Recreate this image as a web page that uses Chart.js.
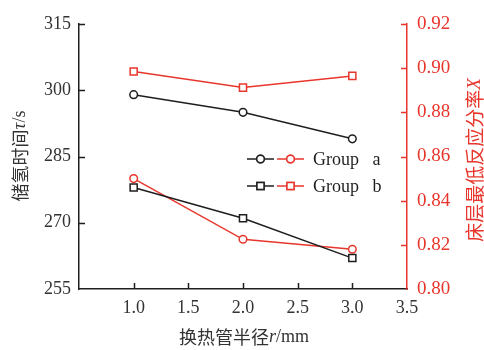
<!DOCTYPE html>
<html>
<head>
<meta charset="utf-8">
<script src="https://cdn.jsdelivr.net/npm/chart.js@4/dist/chart.umd.min.js"></script>
<style>
  html, body { margin: 0; padding: 0; background: #ffffff; }
  #wrap { width: 484px; height: 350px; position: relative; }
</style>
</head>
<body>
<div id="wrap"><canvas id="c" width="484" height="350"></canvas></div>
<script>
// Heat-exchange tube radius r (mm)
const radii = [1.0, 2.0, 3.0];
// Hydrogen storage time τ (s), left axis
const timeA = [299, 295, 289];
const timeB = [278, 271, 262];
// Minimum bed reacted fraction X, right axis
const fracA = [0.850, 0.8225, 0.818];
const fracB = [0.8985, 0.8912, 0.8965];
// Axis tick settings
const xTicks = { min: 0.5, max: 3.5, step: 0.5 };
const yTicks = { min: 255, max: 315, step: 15 };
const y1Ticks = { min: 0.80, max: 0.92, step: 0.02 };
const groupNames = ['Group   a', 'Group   b'];

const BLACK = '#1e1e1e';
const RED = '#e8362c';
const SERIF = '"Liberation Serif", "Times New Roman", serif';
const CJK = '"Noto Sans CJK SC", "Noto Sans", sans-serif';

const pts = (xs, ys) => xs.map((x, i) => ({ x: x, y: ys[i] }));

function series(label, data, color, style, axis) {
  return {
    label: label,
    data: data,
    yAxisID: axis,
    borderColor: color,
    backgroundColor: '#ffffff',
    borderWidth: 1.5,
    pointStyle: style,
    pointRadius: style === 'rect' ? 5 : 3.8,
    pointBorderWidth: 1.5,
    pointBackgroundColor: '#ffffff',
    pointBorderColor: color,
    tension: 0
  };
}

// Draws a run of text pieces with mixed styles, centred on (cx, cy), optionally rotated
function drawRun(ctx, pieces, cx, cy, angle, color) {
  ctx.save();
  ctx.translate(cx, cy);
  ctx.rotate(angle);
  ctx.fillStyle = color;
  ctx.textBaseline = 'middle';
  ctx.textAlign = 'left';
  let total = 0;
  pieces.forEach(p => { ctx.font = p.font; p.w = ctx.measureText(p.t).width; total += p.w; });
  let x = -total / 2;
  pieces.forEach(p => { ctx.font = p.font; ctx.fillText(p.t, x, p.dy || 0); x += p.w; });
  ctx.restore();
}

const decorations = {
  id: 'decorations',
  afterDraw(chart) {
    const ctx = chart.ctx;
    const area = chart.chartArea;
    const sx = chart.scales.x, sy = chart.scales.y, sy1 = chart.scales.y1;
    const tl = 6;
    ctx.save();
    ctx.lineWidth = 1.5;
    // inward tick marks
    ctx.strokeStyle = BLACK;
    ctx.beginPath();
    sy.ticks.forEach(t => {
      const p = Math.round(sy.getPixelForValue(t.value)) + 0.5;
      if (Math.abs(p - area.bottom) < 2) return;
      ctx.moveTo(area.left, p); ctx.lineTo(area.left + tl, p);
    });
    sx.ticks.forEach(t => {
      const p = Math.round(sx.getPixelForValue(t.value)) + 0.5;
      if (Math.abs(p - area.left) < 2 || Math.abs(p - area.right) < 2) return;
      ctx.moveTo(p, area.bottom); ctx.lineTo(p, area.bottom - tl);
    });
    ctx.stroke();
    ctx.strokeStyle = RED;
    ctx.beginPath();
    sy1.ticks.forEach(t => {
      const p = Math.round(sy1.getPixelForValue(t.value)) + 0.5;
      if (Math.abs(p - area.bottom) < 2) return;
      ctx.moveTo(area.right, p); ctx.lineTo(area.right - tl, p);
    });
    ctx.stroke();

    // legend: black + red sample for each group
    const rows = [
      { y: 159, style: 'circle', r: 3.8, name: groupNames[0] },
      { y: 186, style: 'rect', r: 5, name: groupNames[1] }
    ];
    rows.forEach(row => {
      [[247, 274, BLACK], [277, 304, RED]].forEach(seg => {
        ctx.strokeStyle = seg[2];
        ctx.lineWidth = 1.5;
        ctx.beginPath();
        ctx.moveTo(seg[0], row.y); ctx.lineTo(seg[1], row.y);
        ctx.stroke();
        ctx.fillStyle = '#ffffff';
        Chart.helpers.drawPoint(ctx, { pointStyle: row.style, radius: row.r, borderWidth: 1.5 },
          (seg[0] + seg[1]) / 2, row.y);
        ctx.fill();
        ctx.stroke();
      });
      ctx.fillStyle = BLACK;
      ctx.font = '18px ' + SERIF;
      ctx.textAlign = 'left';
      ctx.textBaseline = 'middle';
      ctx.fillText(row.name, 313, row.y + 1);
    });
    ctx.restore();

    // axis titles
    drawRun(ctx, [
      { t: '储氢时间', font: '18px ' + CJK },
      { t: 'τ', font: 'italic 19px ' + SERIF },
      { t: '/s', font: '18px ' + SERIF }
    ], 20, 156, -Math.PI / 2, '#333333');
    drawRun(ctx, [
      { t: '床层最低反应分率', font: '19px ' + CJK },
      { t: 'X', font: 'italic 19px ' + SERIF }
    ], 475, 160, -Math.PI / 2, RED);
    drawRun(ctx, [
      { t: '换热管半径', font: '18px ' + CJK },
      { t: 'r', font: 'italic 18px ' + SERIF },
      { t: '/mm', font: '18px ' + SERIF }
    ], 244, 337, 0, '#333333');
  }
};

new Chart(document.getElementById('c'), {
  type: 'line',
  data: {
    datasets: [
      series('Group a τ', pts(radii, timeA), BLACK, 'circle', 'y'),
      series('Group b τ', pts(radii, timeB), BLACK, 'rect', 'y'),
      series('Group a X', pts(radii, fracA), RED, 'circle', 'y1'),
      series('Group b X', pts(radii, fracB), RED, 'rect', 'y1')
    ]
  },
  options: {
    responsive: false,
    animation: false,
    layout: { padding: { top: 24, left: 0, right: 0, bottom: 0 } },
    plugins: { legend: { display: false }, tooltip: { enabled: false } },
    scales: {
      x: {
        type: 'linear',
        min: xTicks.min, max: xTicks.max,
        afterFit: s => { s.height = 61; },
        grid: { display: true, drawOnChartArea: false, drawTicks: false },
        border: { display: true, color: BLACK, width: 1.5 },
        ticks: {
          stepSize: xTicks.step, padding: 8, color: '#333333',
          font: { family: SERIF, size: 18 },
          callback: v => (Math.abs(v - xTicks.min) < 1e-9 ? '' : v.toFixed(1))
        }
      },
      y: {
        position: 'left',
        min: yTicks.min, max: yTicks.max,
        afterFit: s => { s.width = 79; },
        grid: { display: true, drawOnChartArea: false, drawTicks: false },
        border: { display: true, color: BLACK, width: 1.5 },
        ticks: {
          stepSize: yTicks.step, padding: 8, color: '#333333',
          font: { family: SERIF, size: 18 }
        }
      },
      y1: {
        position: 'right',
        min: y1Ticks.min, max: y1Ticks.max,
        afterFit: s => { s.width = 77; },
        grid: { display: true, drawOnChartArea: false, drawTicks: false },
        border: { display: true, color: RED, width: 1.5 },
        ticks: {
          stepSize: y1Ticks.step, padding: 10, color: RED,
          font: { family: SERIF, size: 19 },
          callback: v => v.toFixed(2)
        }
      }
    }
  },
  plugins: [decorations]
});
</script>
</body>
</html>
